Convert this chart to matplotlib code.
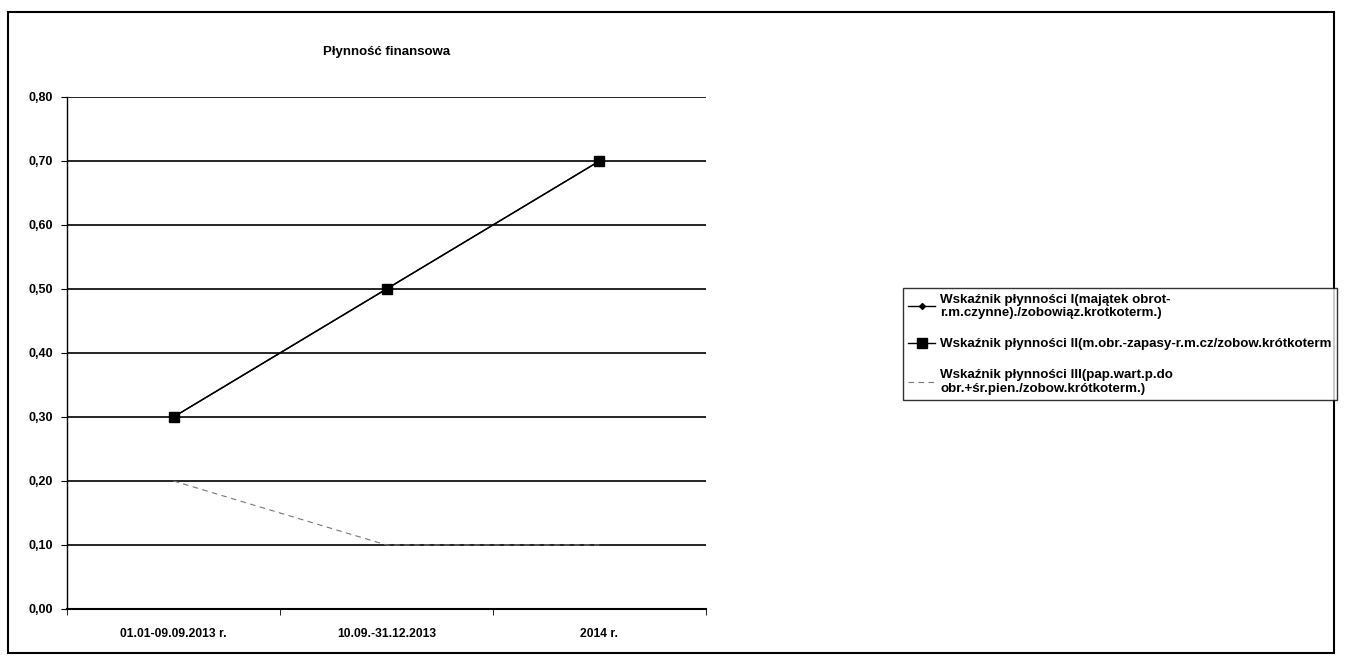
import matplotlib.pyplot as plt
from matplotlib.patches import Rectangle

plt.rcParams['font.family'] = ['Liberation Sans', 'DejaVu Sans']

# dane
okresy = ['01.01-09.09.2013 r.', '10.09.-31.12.2013', '2014 r.']
wskaznik_1 = [0.30, 0.50, 0.70]
wskaznik_2 = [0.30, 0.50, 0.70]
wskaznik_3 = [0.20, 0.10, 0.10]
etykiety = [
    'Wskaźnik płynności I(majątek obrot-\nr.m.czynne)./zobowiąz.krotkoterm.)',
    'Wskaźnik płynności II(m.obr.-zapasy-r.m.cz/zobow.krótkoterm',
    'Wskaźnik płynności III(pap.wart.p.do\nobr.+śr.pien./zobow.krótkoterm.)',
]
y_ticks = [0.0, 0.1, 0.2, 0.3, 0.4, 0.5, 0.6, 0.7, 0.8]

fig = plt.figure(figsize=(13.46, 6.58), dpi=100)
ax = fig.add_axes([0.0498, 0.0745, 0.4747, 0.7781])

x = list(range(len(okresy)))

# linie siatki
for v in y_ticks:
    ax.axhline(v, color='black', linewidth=1.2, zorder=1)

ax.plot(x, wskaznik_1, color='black', linewidth=1.0, marker='D', markersize=3, label=etykiety[0], zorder=3)
ax.plot(x, wskaznik_2, color='black', linewidth=1.0, marker='s', markersize=7, label=etykiety[1], zorder=4)
ax.plot(x, wskaznik_3, color='#777777', linewidth=0.8, linestyle=(0, (5, 4)), label=etykiety[2], zorder=3)

ax.set_xlim(-0.5, 2.5)
ax.set_ylim(0, 0.8)
ax.set_yticks(y_ticks)
ax.set_yticklabels([f'{v:.2f}'.replace('.', ',') for v in y_ticks], fontsize=9, fontweight='bold')
ax.set_xticks(x)
ax.set_xticklabels(okresy, fontsize=8.7, fontweight='bold')
ax.tick_params(axis='x', length=0, pad=14)
ax.set_xticks([-0.5, 0.5, 1.5, 2.5], minor=True)
ax.tick_params(axis='x', which='minor', length=4, direction='out')
ax.tick_params(axis='y', length=4, direction='out', pad=6)

for s in ['top', 'right']:
    ax.spines[s].set_visible(False)
ax.spines['left'].set_linewidth(1.0)
ax.spines['bottom'].set_linewidth(1.5)

fig.text(0.2875, 0.921, 'Płynność finansowa', ha='center', va='center', fontsize=9.5, fontweight='bold')

leg = fig.legend(loc='upper left', bbox_to_anchor=(0.671, 0.562), prop={'size': 9.6, 'weight': 'bold'},
                 frameon=True, fancybox=False, edgecolor='black', handlelength=2.0,
                 borderpad=0.4, labelspacing=1.4, handletextpad=0.4, borderaxespad=0)
leg.get_frame().set_linewidth(1.0)

# ramka wykresu
fig.patches.append(Rectangle((0.006, 0.0076), 0.985, 0.974, transform=fig.transFigure,
                             fill=False, edgecolor='black', linewidth=1.5))

fig.savefig('out.png', dpi=100)
